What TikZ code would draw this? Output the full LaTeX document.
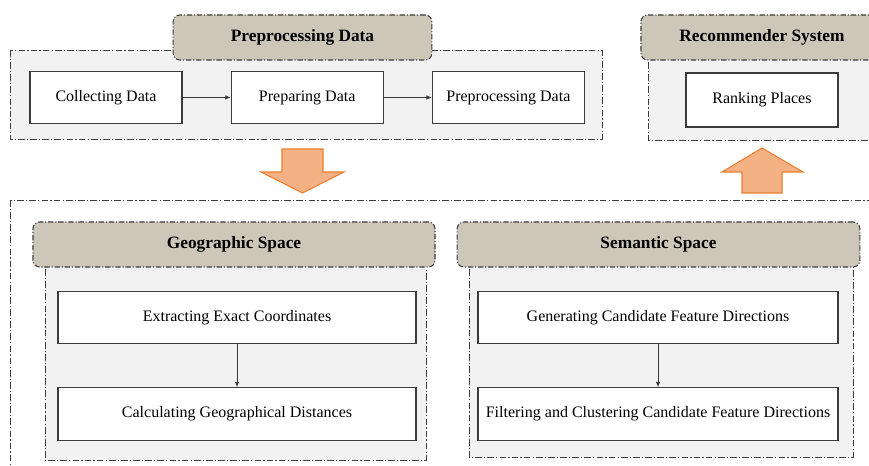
\documentclass[tikz,border=0pt]{standalone}
\usepackage{fontspec}
\setmainfont{Liberation Serif}
\usetikzlibrary{arrows.meta,positioning}
\definecolor{panelbg}{RGB}{242,242,242}
\definecolor{headbg}{RGB}{205,199,186}
\definecolor{flowfill}{RGB}{244,177,131}
\definecolor{flowline}{RGB}{237,125,49}
\definecolor{edgecol}{RGB}{60,60,60}

\begin{document}
\begin{tikzpicture}[x=0.75pt,y=-0.75pt,
   node distance=32pt and 36pt,
   panel/.style={draw=edgecol,fill=panelbg,line width=0.7pt,
                 dash pattern=on 5pt off 1.6pt on 0.9pt off 1.6pt},
   head/.style={draw=edgecol,fill=headbg,rounded corners=5pt,line width=0.8pt,
                dash pattern=on 4pt off 1.4pt on 0.8pt off 1.4pt,
                inner sep=0pt,minimum height=33.75pt,
                font=\fontsize{13}{15}\selectfont\bfseries},
   task/.style={draw=edgecol,fill=white,line width=0.9pt,inner sep=0pt,
                minimum height=39.5pt,font=\fontsize{12}{14}\selectfont},
   flow/.style={-{Latex[length=4pt,width=3.5pt]},edgecol,line width=0.5pt},
   bigarrow/.style={draw=flowline,fill=flowfill,line width=0.8pt}]
  \useasboundingbox (0,0) rectangle (869,466);
  \clip (0,0) rectangle (869,466);

  % panels
  \draw[panel] (10,50) rectangle (602,139);
  \draw[panel] (648,50) rectangle (900,140);
  \draw[panel,fill=none] (10,200) rectangle (900,500);
  \draw[panel] (45,257) rectangle (426,460);
  \draw[panel] (469,257) rectangle (853,457);

  % panel titles
  \node[head,minimum width=194pt]   (prehead) at (302.5,37.5) {Preprocessing Data};
  \node[head,minimum width=181.5pt] (rechead) at (762,37.5)   {Recommender System};
  \node[head,minimum width=301.5pt] (geohead) at (234,244.5)  {Geographic Space};
  \node[head,minimum width=302pt]   (semhead) at (658.5,244.5) {Semantic Space};

  % steps
  \node[task,minimum width=114pt] (collect) at (106,97.5) {Collecting Data};
  \node[task,minimum width=114pt,right=of collect] (prepare) {Preparing Data};
  \node[task,minimum width=114pt,right=of prepare] (preproc) {Preprocessing Data};
  \node[task,minimum width=114pt,minimum height=40.5pt] (rank) at (762,100) {Ranking Places};

  \node[task,minimum width=268.5pt] (extract) at (237,317.5) {Extracting Exact Coordinates};
  \node[task,minimum width=268.5pt,below=of extract] (distance) {Calculating Geographical Distances};
  \node[task,minimum width=270pt] (generate) at (658,317.5) {Generating Candidate Feature Directions};
  \node[task,minimum width=270pt,below=of generate] (filter) {Filtering and Clustering Candidate Feature Directions};

  \draw[flow] (collect) -- (prepare);
  \draw[flow] (prepare) -- (preproc);
  \draw[flow] (extract) -- (distance);
  \draw[flow] (generate) -- (filter);

  % block arrows
  \draw[bigarrow] (282,149) -- (323,149) -- (323,172) -- (344,172) -- (302.5,193)
        -- (261,172) -- (282,172) -- cycle;
  \draw[bigarrow] (742,193) -- (782,193) -- (782,172) -- (803,172) -- (762,148)
        -- (722,172) -- (742,172) -- cycle;
\end{tikzpicture}
\end{document}
